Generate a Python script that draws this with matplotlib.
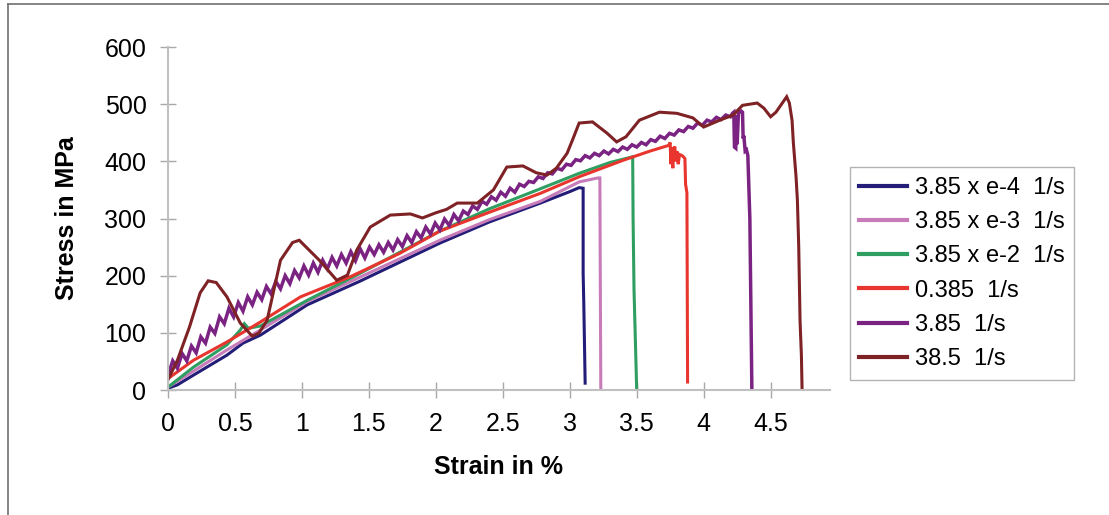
"""
Stress-strain curves at different strain rates
"""

import matplotlib.pyplot as plt
from matplotlib.lines import Line2D

# read data (strain in %, stress in MPa)
labels = ['3.85 x e-4  1/s', '3.85 x e-3  1/s', '3.85 x e-2  1/s',
          '0.385  1/s', '3.85  1/s', '38.5  1/s']
colors = ['#231d78', '#c77bb8', '#2e9e61', '#e8352e', '#7b2382', '#7f2225']

navy_x = [0, 0.07, 0.19, 0.44, 0.56, 0.69, 1.04, 1.43, 2.03, 2.40, 2.78, 3.00, 3.07, 3.10,
          3.10, 3.105, 3.115]
navy_y = [3, 9, 26, 61, 82, 96, 149, 190, 257, 294, 327, 347, 354, 353,
          205, 150, 12]

pink_x = [0, 0.19, 0.44, 0.69, 1.04, 1.43, 2.03, 2.40, 2.78, 3.07, 3.15, 3.21, 3.225,
          3.228, 3.232]
pink_y = [5, 33, 70, 105, 155, 197, 262, 298, 330, 364, 368, 371, 371,
          200, 0]

green_x = [0, 0.19, 0.44, 0.54, 0.57, 0.60, 0.69, 1.04, 1.40, 2.03, 2.40, 2.78, 3.07,
           3.30, 3.47, 3.473, 3.48, 3.50]
green_y = [5, 40, 79, 105, 116, 108, 112, 157, 200, 278, 317, 352, 379,
           398, 408, 300, 175, 0]

red_x = [0, 0.19, 0.44, 0.69, 0.99, 1.36, 1.73, 2.03, 2.40, 2.78, 3.07, 3.40, 3.60, 3.74,
         3.75, 3.755, 3.76, 3.77, 3.775, 3.785, 3.79, 3.80, 3.81, 3.82, 3.84, 3.86,
         3.865, 3.875, 3.88]
red_y = [20, 52, 84, 119, 163, 198, 239, 278, 311, 344, 373, 402, 418, 428,
         433, 395, 425, 388, 420, 426, 400, 418, 395, 412, 410, 405,
         360, 345, 14]

purple_x = [0.000, 0.035, 0.070, 0.105, 0.140, 0.175, 0.210, 0.245, 0.280, 0.315,
            0.350, 0.385, 0.420, 0.455, 0.490, 0.525, 0.560, 0.595, 0.630, 0.665,
            0.700, 0.735, 0.770, 0.805, 0.840, 0.875, 0.910, 0.945, 0.980, 1.015,
            1.050, 1.085, 1.120, 1.155, 1.190, 1.225, 1.260, 1.295, 1.330, 1.365,
            1.400, 1.435, 1.470, 1.505, 1.540, 1.575, 1.610, 1.645, 1.680, 1.715,
            1.750, 1.785, 1.820, 1.855, 1.890, 1.925, 1.960, 1.995, 2.030, 2.065,
            2.100, 2.135, 2.170, 2.205, 2.240, 2.275, 2.310, 2.345, 2.380, 2.415,
            2.450, 2.485, 2.520, 2.555, 2.590, 2.625, 2.660, 2.695, 2.730, 2.765,
            2.800, 2.835, 2.870, 2.905, 2.940, 2.975, 3.010, 3.045, 3.080, 3.115,
            3.150, 3.185, 3.220, 3.255, 3.290, 3.325, 3.360, 3.395, 3.430, 3.465,
            3.500, 3.535, 3.570, 3.605, 3.640, 3.675, 3.710, 3.745, 3.780, 3.815,
            3.850, 3.885, 3.920, 3.955, 3.990, 4.025, 4.060, 4.095, 4.130, 4.165,
            4.200,
            4.215, 4.225, 4.23, 4.24, 4.245, 4.25, 4.26, 4.28, 4.29, 4.295, 4.30,
            4.31, 4.32, 4.33, 4.345, 4.355, 4.36]
purple_y = [25, 51, 38, 64, 51, 77, 65, 93, 82, 110,
            99, 128, 116, 143, 128, 153, 138, 163, 149, 171,
            158, 181, 168, 190, 177, 200, 186, 209, 196, 217,
            201, 222, 206, 227, 212, 232, 217, 237, 222, 242,
            226, 247, 231, 250, 237, 254, 241, 258, 245, 263,
            251, 270, 258, 277, 266, 285, 273, 292, 280, 299,
            288, 307, 296, 313, 307, 322, 316, 330, 325, 338,
            332, 346, 339, 353, 346, 360, 356, 365, 363, 373,
            370, 380, 378, 388, 385, 395, 393, 403, 401, 410,
            406, 414, 410, 418, 413, 421, 417, 425, 421, 429,
            425, 433, 429, 438, 435, 444, 440, 449, 446, 455,
            452, 461, 458, 467, 463, 472, 469, 477, 473, 481,
            478,
            484, 486, 425, 423, 480, 430, 485, 488, 486, 440, 445,
            418, 420, 410, 300, 100, 0]

brown_x = [0, 0.07, 0.16, 0.24, 0.30, 0.36, 0.44, 0.54, 0.63, 0.68, 0.74, 0.84, 0.93,
           0.98, 1.13, 1.26, 1.34, 1.41, 1.51, 1.66, 1.81, 1.90, 2.00, 2.08, 2.16, 2.31,
           2.43, 2.53, 2.65, 2.75, 2.83, 2.90, 2.98, 3.02, 3.07, 3.17, 3.28, 3.35, 3.42,
           3.52, 3.67, 3.80, 3.92, 4.00, 4.12, 4.22, 4.29, 4.40, 4.45, 4.50, 4.54, 4.62,
           4.64, 4.66, 4.67, 4.69, 4.70, 4.71, 4.72, 4.73, 4.735]
brown_y = [18, 52, 110, 170, 191, 188, 163, 117, 94, 100, 122, 227, 258,
           262, 227, 192, 201, 245, 285, 306, 308, 301, 310, 316, 327, 327,
           350, 390, 392, 380, 376, 388, 414, 437, 467, 469, 449, 434, 443,
           472, 486, 484, 476, 460, 472, 481, 498, 502, 493, 478, 486, 513,
           502, 472, 432, 373, 332, 250, 120, 60, 0]

series_x = [navy_x, pink_x, green_x, red_x, purple_x, brown_x]
series_y = [navy_y, pink_y, green_y, red_y, purple_y, brown_y]

plt.rcParams['font.family'] = ['Liberation Sans', 'DejaVu Sans']
fig = plt.figure(figsize=(11.09, 5.15), dpi=100)
ax = fig.add_axes([0.1515, 0.2427, 0.5965, 0.666])

for xs, ys, c, lab in zip(series_x, series_y, colors, labels):
    lw = 2.5 if c == '#7b2382' else 2.2
    ax.plot(xs, ys, color=c, lw=lw, label=lab, solid_joinstyle='miter')

ax.set_xlim(0, 4.94)
ax.set_ylim(0, 600)
ax.set_xticks([0, 0.5, 1, 1.5, 2, 2.5, 3, 3.5, 4, 4.5])
ax.set_xticklabels(['0', '0.5', '1', '1.5', '2', '2.5', '3', '3.5', '4', '4.5'])
ax.set_yticks(range(0, 601, 100))

for s in ['top', 'right']:
    ax.spines[s].set_visible(False)
for s in ['left', 'bottom']:
    ax.spines[s].set_color('#c0c0c0')
    ax.spines[s].set_linewidth(1.5)
ax.tick_params(direction='inout', length=11, width=1, color='#a8a8a8',
               labelsize=18, pad=10)
ax.set_xlabel('Strain in %', fontsize=18, fontweight='bold', labelpad=14)
ax.set_ylabel('Stress in MPa', fontsize=18, fontweight='bold', labelpad=18)

leg = ax.legend(loc='center left', bbox_to_anchor=(850 / 1109, 1 - 273.5 / 515),
                bbox_transform=fig.transFigure, fontsize=17, frameon=True,
                fancybox=False, edgecolor='#a0a0a0', handlelength=2.0,
                handletextpad=0.35, labelspacing=0.52, borderpad=0.4,
                borderaxespad=0)
leg.get_frame().set_linewidth(1.0)
for h in leg.get_lines():
    h.set_linewidth(3)

# outer border of the chart
fig.add_artist(Line2D([8 / 1109, 8 / 1109], [0, 1 - 4 / 515], color='#707070', lw=1.2))
fig.add_artist(Line2D([8 / 1109, 1], [1 - 4 / 515, 1 - 4 / 515], color='#707070', lw=1.2))

fig.savefig('out.png', dpi=100)
